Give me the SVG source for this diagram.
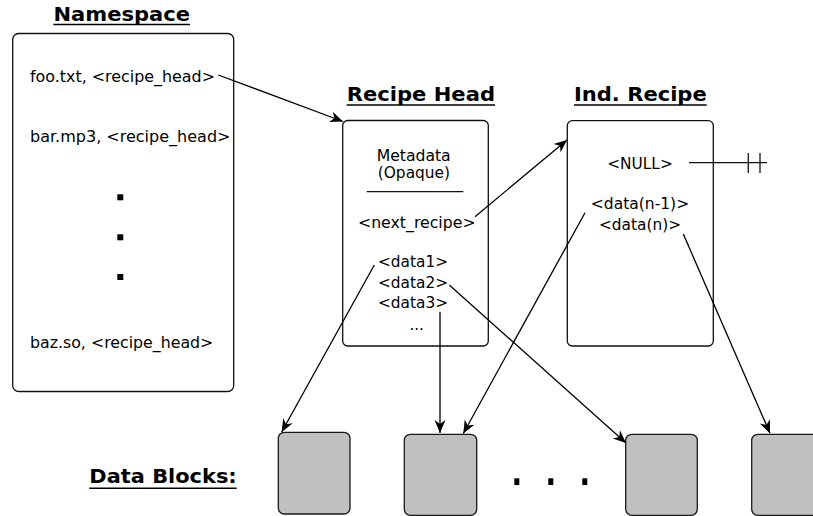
<svg xmlns="http://www.w3.org/2000/svg" width="813" height="516" viewBox="0 0 813 516">
  <defs>
    <style>
      .box { fill: #ffffff; stroke: #111111; stroke-width: 1.3; }
      .block { fill: #c0c0c0; stroke: #1a1a1a; stroke-width: 1.3; }
      .txt { font-family: "DejaVu Sans", "Liberation Sans", sans-serif; font-size: 15px; fill: #000000; }
      .ttl { font-family: "DejaVu Sans", "Liberation Sans", sans-serif; font-size: 19.5px; font-weight: bold; fill: #000000; }
      .uline { stroke: #000000; stroke-width: 1.6; }
      .rule { stroke: #111111; stroke-width: 1.3; fill: none; }
      .edge { stroke: #000000; stroke-width: 1.3; fill: none; marker-end: url(#arrow); }
      .dot { fill: #000000; }
    </style>
    <marker id="arrow" viewBox="-14 -7 15 14" refX="0" refY="0" markerWidth="15" markerHeight="14" markerUnits="userSpaceOnUse" orient="auto">
      <path d="M0,0 L-13,-5.5 L-9,0 L-13,5.5 Z" fill="#000000"/>
    </marker>
  </defs>

  <rect width="813" height="516" fill="#ffffff"/>

  <!-- section titles -->
  <g id="titles">
    <text class="ttl" x="53.5" y="20.7" textLength="136.5" lengthAdjust="spacingAndGlyphs">Namespace</text>
    <line class="uline" x1="53.5" y1="24.5" x2="190" y2="24.5"/>
    <text class="ttl" x="346.7" y="100.7" textLength="148.3" lengthAdjust="spacingAndGlyphs">Recipe Head</text>
    <line class="uline" x1="346.7" y1="105" x2="495" y2="105"/>
    <text class="ttl" x="574" y="100.7" textLength="132.7" lengthAdjust="spacingAndGlyphs">Ind. Recipe</text>
    <line class="uline" x1="574" y1="105" x2="706.7" y2="105"/>
    <text class="ttl" x="89.3" y="483.3" textLength="147.4" lengthAdjust="spacingAndGlyphs">Data Blocks:</text>
    <line class="uline" x1="89.3" y1="488.3" x2="236.7" y2="488.3"/>
  </g>

  <!-- namespace table -->
  <g id="namespace">
    <rect class="box" x="12.7" y="33.5" width="221" height="358" rx="6"/>
    <text class="txt" x="30" y="81.7" textLength="185" lengthAdjust="spacingAndGlyphs">foo.txt, &lt;recipe_head&gt;</text>
    <text class="txt" x="30" y="141.7" textLength="200.5" lengthAdjust="spacingAndGlyphs">bar.mp3, &lt;recipe_head&gt;</text>
    <rect class="dot" x="117.3" y="194.3" width="6" height="6"/>
    <rect class="dot" x="117.3" y="234.3" width="6" height="6"/>
    <rect class="dot" x="117.3" y="274" width="6" height="6"/>
    <text class="txt" x="30" y="348.3" textLength="183.3" lengthAdjust="spacingAndGlyphs">baz.so, &lt;recipe_head&gt;</text>
  </g>

  <!-- recipe head -->
  <g id="recipe-head">
    <rect class="box" x="342.7" y="120.5" width="145.6" height="225.5" rx="5"/>
    <text class="txt" x="413.7" y="161" text-anchor="middle" textLength="74" lengthAdjust="spacingAndGlyphs">Metadata</text>
    <text class="txt" x="413.9" y="177.5" text-anchor="middle" textLength="72.3" lengthAdjust="spacingAndGlyphs">(Opaque)</text>
    <line class="rule" x1="366.7" y1="191.7" x2="463.3" y2="191.7"/>
    <text class="txt" x="416.8" y="228.3" text-anchor="middle" textLength="117.7" lengthAdjust="spacingAndGlyphs">&lt;next_recipe&gt;</text>
    <text class="txt" x="413" y="266.7" text-anchor="middle" textLength="70" lengthAdjust="spacingAndGlyphs">&lt;data1&gt;</text>
    <text class="txt" x="413" y="288.3" text-anchor="middle" textLength="70" lengthAdjust="spacingAndGlyphs">&lt;data2&gt;</text>
    <text class="txt" x="413" y="308.3" text-anchor="middle" textLength="70" lengthAdjust="spacingAndGlyphs">&lt;data3&gt;</text>
    <text class="txt" x="416.7" y="330" text-anchor="middle">...</text>
  </g>

  <!-- indirect recipe -->
  <g id="ind-recipe">
    <rect class="box" x="567.3" y="120.7" width="146" height="225.3" rx="5"/>
    <text class="txt" x="640" y="169" text-anchor="middle" textLength="65.7" lengthAdjust="spacingAndGlyphs">&lt;NULL&gt;</text>
    <text class="txt" x="640" y="208.5" text-anchor="middle" textLength="98.3" lengthAdjust="spacingAndGlyphs">&lt;data(n-1)&gt;</text>
    <text class="txt" x="640" y="229.5" text-anchor="middle" textLength="82" lengthAdjust="spacingAndGlyphs">&lt;data(n)&gt;</text>
  </g>

  <!-- null terminator -->
  <g id="null-end">
    <line class="rule" x1="689" y1="162.7" x2="767" y2="162.7"/>
    <line class="rule" x1="748.3" y1="153" x2="748.3" y2="173"/>
    <line class="rule" x1="760" y1="153" x2="760" y2="173"/>
  </g>

  <!-- data blocks -->
  <g id="block-1"><rect class="block" x="278.3" y="432.3" width="71.7" height="81.7" rx="6"/></g>
  <g id="block-2"><rect class="block" x="404.3" y="434.3" width="72.4" height="81" rx="6"/></g>
  <g id="block-3"><rect class="block" x="625.7" y="434.3" width="71.6" height="81" rx="6"/></g>
  <g id="block-4"><rect class="block" x="751.7" y="434.3" width="72" height="81" rx="6"/></g>
  <g id="block-gap">
    <rect class="dot" x="514.3" y="478.3" width="5" height="6.7"/>
    <rect class="dot" x="548.3" y="478.3" width="5" height="6.7"/>
    <rect class="dot" x="582.3" y="478.3" width="5" height="6.7"/>
  </g>

  <!-- pointers -->
  <g id="connectors">
    <line class="edge" x1="218.3" y1="75" x2="343" y2="121.5"/>
    <line class="edge" x1="475" y1="216.7" x2="567" y2="140"/>
    <line class="edge" x1="374.3" y1="265" x2="281.7" y2="432"/>
    <line class="edge" x1="440" y1="311.7" x2="440" y2="433"/>
    <line class="edge" x1="449.3" y1="285" x2="626" y2="443"/>
    <line class="edge" x1="585" y1="212.7" x2="463.3" y2="433.5"/>
    <line class="edge" x1="683.3" y1="234" x2="770" y2="433.3"/>
  </g>
</svg>
